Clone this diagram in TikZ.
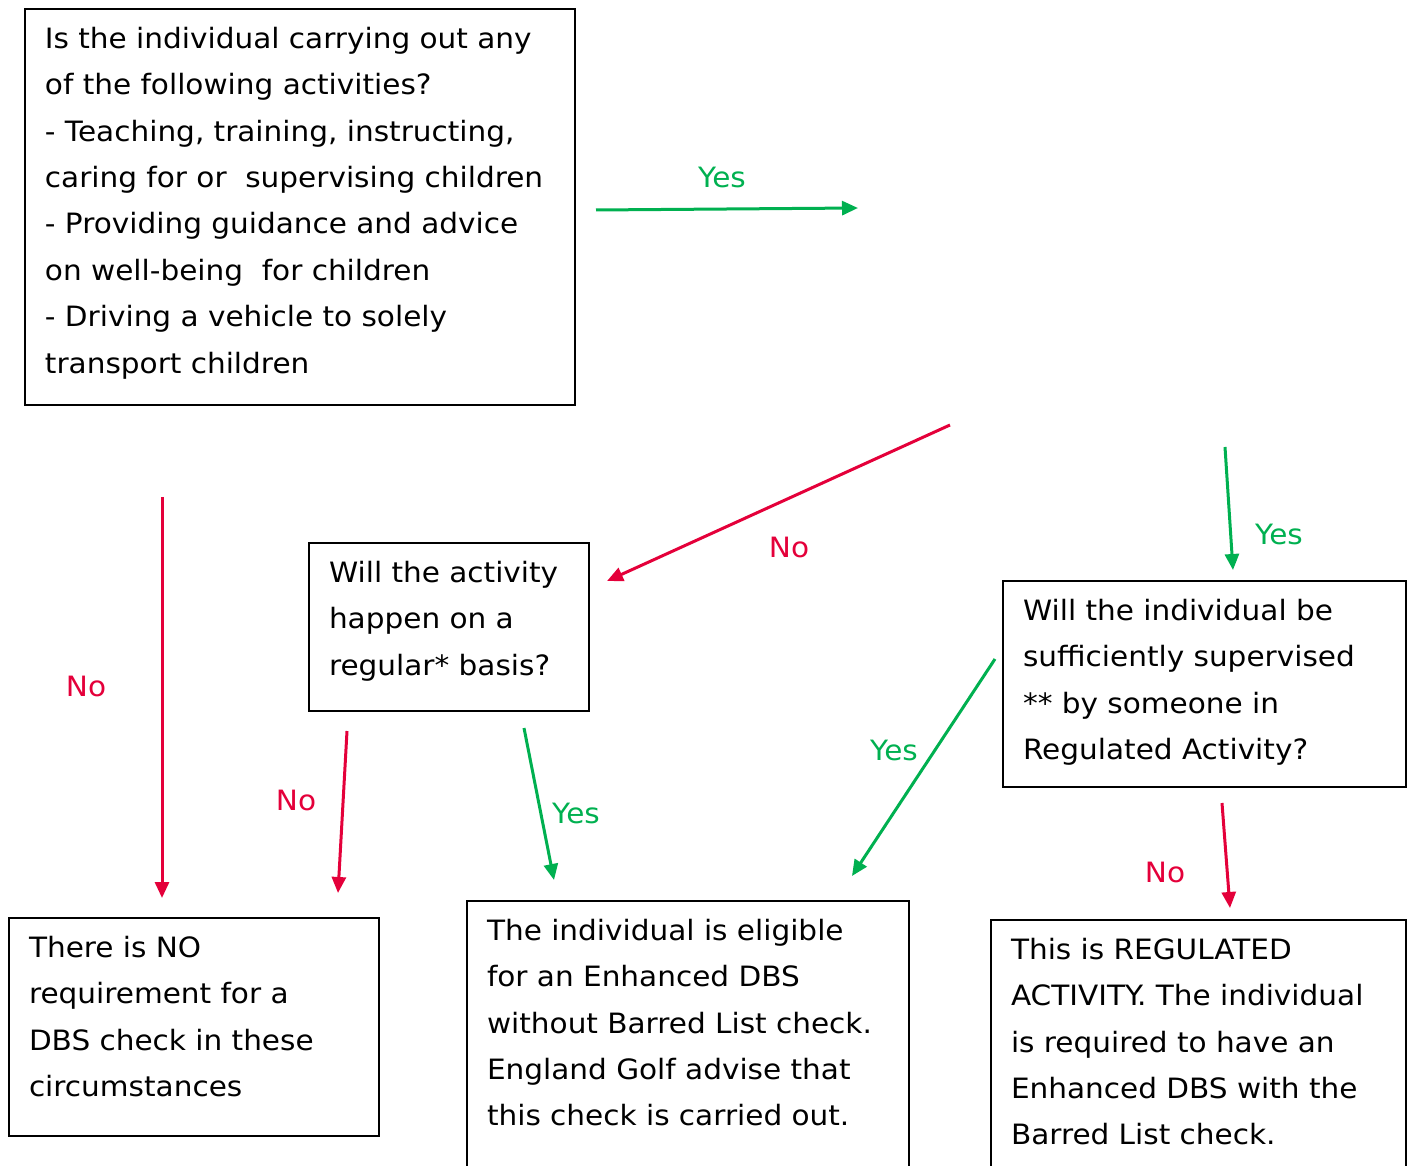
\documentclass[tikz,border=0pt]{standalone}
\usepackage{fontspec}
\setmainfont{DejaVu Sans}[FakeStretch=1.055]
\usetikzlibrary{arrows.meta}
\definecolor{yesgreen}{RGB}{0,176,80}
\definecolor{nored}{RGB}{228,0,58}
\newcommand{\boxend}[1]{\rule[-#1]{0pt}{1pt}}

\begin{document}
\begin{tikzpicture}[x=0.5pt,y=-0.5pt,
    box/.style={draw, line width=1pt, anchor=north west, align=left, inner xsep=10pt, inner ysep=9pt, font=\fontsize{14}{23.2}\selectfont},
    yes/.style={yesgreen, line width=1.5pt, -{Triangle[length=8pt,width=7pt]}},
    no/.style={nored, line width=1.5pt, -{Triangle[length=8pt,width=7pt]}},
    lbl/.style={font=\fontsize{14}{16}\selectfont}]
    \useasboundingbox (0,0) rectangle (1410,1166);

    % questions
    \node[box, text width=255pt] (activity) at (24,8) {Is the individual carrying out any\\of the following activities?\\- Teaching, training, instructing,\\caring for or\ \ supervising children\\- Providing guidance and advice\\on well-being\ \ for children\\- Driving a vehicle to solely\\transport children\boxend{7pt}};
    \node[box, text width=120pt] (regular) at (308,542) {Will the activity\\happen on a\\regular* basis?\boxend{9pt}};
    \node[box, text width=181.5pt] (supervised) at (1002,580) {Will the individual be\\sufficiently supervised\\{}** by someone in\\Regulated Activity?\boxend{5pt}};

    % outcomes
    \node[box, text width=165pt] (nocheck) at (8,917) {There is NO\\requirement for a\\DBS check in these\\circumstances\boxend{11pt}};
    \node[box, text width=201pt] (enhanced) at (466,900) {The individual is eligible\\for an Enhanced DBS\\without Barred List check.\\England Golf advise that\\this check is carried out.\boxend{32pt}};
    \node[box, text width=187.5pt] (regulated) at (990,919) {This is REGULATED\\ACTIVITY. The individual\\is required to have an\\Enhanced DBS with the\\Barred List check.\boxend{32pt}};

    % arrow ends
    \coordinate (a1) at (596,210);  \coordinate (b1) at (858,208);
    \coordinate (a2) at (950,425);  \coordinate (b2) at (607,581);
    \coordinate (a3) at (1225,447); \coordinate (b3) at (1233,570);
    \coordinate (a4) at (162,497);  \coordinate (b4) at (162,898);
    \coordinate (a5) at (347,731);  \coordinate (b5) at (338,893);
    \coordinate (a6) at (524,728);  \coordinate (b6) at (554,880);
    \coordinate (a7) at (995,659);  \coordinate (b7) at (852,876);
    \coordinate (a8) at (1222,803); \coordinate (b8) at (1230,908);

    \draw[yes] (a1) -- (b1);
    \draw[no] (a2) -- (b2);
    \draw[yes] (a3) -- (b3);
    \draw[no] (a4) -- (b4);
    \draw[no] (a5) -- (b5);
    \draw[yes] (a6) -- (b6);
    \draw[yes] (a7) -- (b7);
    \draw[no] (a8) -- (b8);

    \node[lbl, text=yesgreen] (y1) at (722,177) {Yes};
    \node[lbl, text=nored] (n2) at (789,547) {No};
    \node[lbl, text=yesgreen] (y3) at (1279,534) {Yes};
    \node[lbl, text=nored] (n4) at (86,686) {No};
    \node[lbl, text=nored] (n5) at (296,800) {No};
    \node[lbl, text=yesgreen] (y6) at (576,813) {Yes};
    \node[lbl, text=yesgreen] (y7) at (894,750) {Yes};
    \node[lbl, text=nored] (n8) at (1165,872) {No};
\end{tikzpicture}
\end{document}
